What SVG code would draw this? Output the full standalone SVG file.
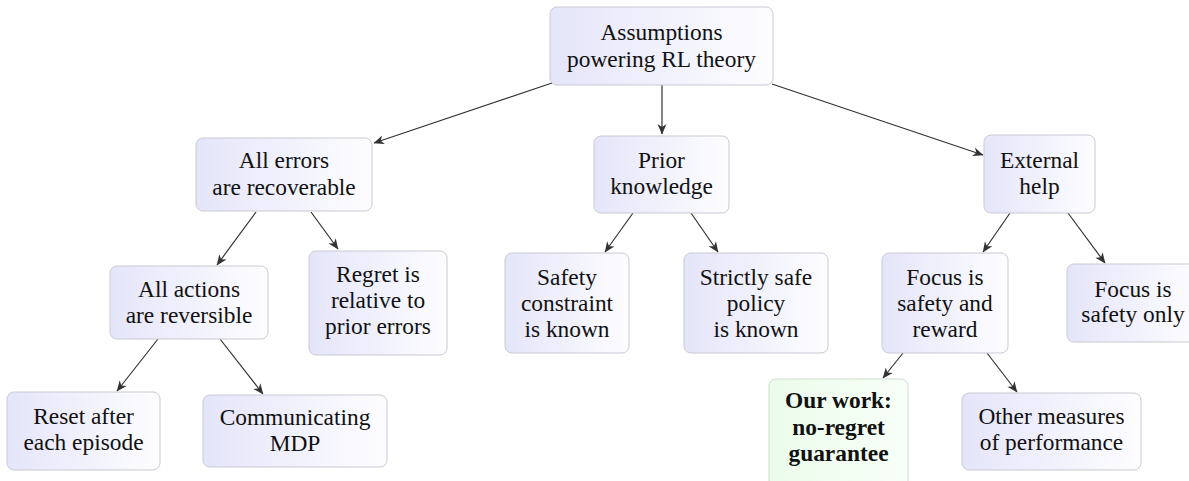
<svg xmlns="http://www.w3.org/2000/svg" width="1189" height="481" viewBox="0 0 1189 481">
<style>
.box{fill:url(#gb);stroke:#c9c9d4;stroke-width:1}
.gbox{fill:url(#gg);stroke:#cfdccf;stroke-width:1}
text{font-size:23.4px;fill:#111;text-anchor:middle}
.b{font-weight:bold}
.edge{stroke:#333;stroke-width:1.2;fill:none;marker-end:url(#ah)}
</style>
<defs>
<linearGradient id="gb" x1="0" y1="0" x2="1" y2="0">
<stop offset="0" stop-color="#e5e5fa"/>
<stop offset="1" stop-color="#fdfdff"/>
</linearGradient>
<linearGradient id="gg" x1="0" y1="0" x2="1" y2="0">
<stop offset="0" stop-color="#ebfceb"/>
<stop offset="1" stop-color="#f8fff8"/>
</linearGradient>
<marker id="ah" viewBox="-11 -5 12 10" refX="0" refY="0" markerWidth="12" markerHeight="10" markerUnits="userSpaceOnUse" orient="auto">
<path d="M0.5,0 L-10,-4.5 L-7,0 L-10,4.5 Z" fill="#333"/>
</marker>
</defs>
<rect width="1189" height="481" fill="#fff"/>
<g id="connectors">
<line class="edge" x1="552" y1="83" x2="374" y2="143"/>
<line class="edge" x1="662" y1="85" x2="662" y2="134"/>
<line class="edge" x1="772" y1="84" x2="983" y2="155"/>
<line class="edge" x1="256" y1="212" x2="217" y2="265"/>
<line class="edge" x1="311" y1="212" x2="338" y2="249"/>
<line class="edge" x1="633" y1="213" x2="605" y2="252"/>
<line class="edge" x1="691" y1="213" x2="718" y2="252"/>
<line class="edge" x1="1010" y1="213" x2="983" y2="252"/>
<line class="edge" x1="1068" y1="213" x2="1105" y2="263"/>
<line class="edge" x1="158" y1="339" x2="117" y2="391"/>
<line class="edge" x1="220" y1="339" x2="263" y2="394"/>
<line class="edge" x1="903" y1="353" x2="883" y2="378"/>
<line class="edge" x1="987" y1="353" x2="1017" y2="392"/>
</g>
<g font-family="Liberation Serif, Times New Roman, DejaVu Serif, serif">
<g id="root">
<rect class="box" x="550" y="7" width="223" height="78" rx="7"/>
<text x="661.5" y="39.5">Assumptions</text>
<text x="661.5" y="66.5">powering RL theory</text>
</g>
<g id="errors">
<rect class="box" x="196" y="138" width="176" height="73" rx="7"/>
<text x="284" y="168">All errors</text>
<text x="284" y="195">are recoverable</text>
</g>
<g id="prior">
<rect class="box" x="594" y="136" width="135" height="77" rx="7"/>
<text x="661.5" y="168">Prior</text>
<text x="661.5" y="194">knowledge</text>
</g>
<g id="external">
<rect class="box" x="984" y="135" width="111" height="78" rx="7"/>
<text x="1039.5" y="168">External</text>
<text x="1039.5" y="194">help</text>
</g>
<g id="actions">
<rect class="box" x="110" y="266" width="158" height="73" rx="7"/>
<text x="189" y="297">All actions</text>
<text x="189" y="323">are reversible</text>
</g>
<g id="regret">
<rect class="box" x="309" y="251" width="138" height="104" rx="7"/>
<text x="378" y="282">Regret is</text>
<text x="378" y="308">relative to</text>
<text x="378" y="334">prior errors</text>
</g>
<g id="constraint">
<rect class="box" x="505" y="253" width="124" height="100" rx="7"/>
<text x="567" y="285">Safety</text>
<text x="567" y="311">constraint</text>
<text x="567" y="337">is known</text>
</g>
<g id="policy">
<rect class="box" x="684" y="253" width="144" height="100" rx="7"/>
<text x="756" y="285">Strictly safe</text>
<text x="756" y="311">policy</text>
<text x="756" y="337">is known</text>
</g>
<g id="focusreward">
<rect class="box" x="882" y="253" width="126" height="100" rx="7"/>
<text x="945" y="285">Focus is</text>
<text x="945" y="311">safety and</text>
<text x="945" y="337">reward</text>
</g>
<g id="focusonly">
<rect class="box" x="1067" y="264" width="132" height="78" rx="7"/>
<text x="1133" y="297">Focus is</text>
<text x="1133" y="322">safety only</text>
</g>
<g id="reset">
<rect class="box" x="7" y="392" width="153" height="78" rx="7"/>
<text x="83.5" y="424">Reset after</text>
<text x="83.5" y="450">each episode</text>
</g>
<g id="communicating">
<rect class="box" x="203" y="395" width="184" height="72" rx="7"/>
<text x="295" y="425">Communicating</text>
<text x="295" y="451">MDP</text>
</g>
<g id="ourwork">
<rect class="gbox" x="769" y="379" width="139" height="112" rx="7"/>
<text class="b" x="838.5" y="408">Our work:</text>
<text class="b" x="838.5" y="435">no-regret</text>
<text class="b" x="838.5" y="461">guarantee</text>
</g>
<g id="othermeasures">
<rect class="box" x="962" y="393" width="179" height="77" rx="7"/>
<text x="1051.5" y="424">Other measures</text>
<text x="1051.5" y="450">of performance</text>
</g>
</g>
</svg>
